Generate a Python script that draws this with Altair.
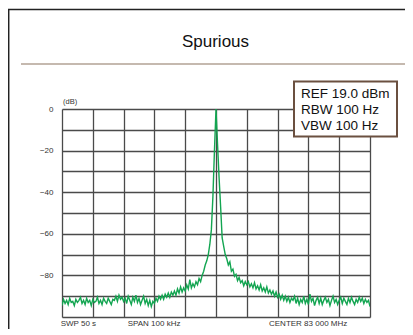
import altair as alt
import pandas as pd

# ---- data ----
level_db = [
    -94.5, -91.5, -93.5, -92, -94, -91, -93, -92.5, -94.5, -91.5,
    -93, -92, -90.5, -93.5, -92, -94, -91, -93, -92, -94.5,
    -91.5, -93, -92.5, -90.5, -93.5, -92, -94, -91, -92.5, -93.5,
    -91, -92.5, -94, -91.5, -92, -90, -92.5, -89.5, -91.5, -90.5,
    -92.5, -91, -93.5, -90, -92, -94, -90.5, -92.5, -89.5, -93,
    -91, -94, -92, -90, -93.5, -91.5, -94.5, -92, -95, -92.5,
    -93.5, -91, -92.5, -90, -91.5, -89.5, -91.5, -89, -90.5, -88.5,
    -90.5, -88, -89.5, -87.5, -89.5, -86.5, -88.5, -85.5, -88, -86,
    -87.5, -84.5, -86.5, -82, -86, -84, -85.5, -83, -84.5, -81.5,
    -83, -80, -78, -75, -73, -70, -65, -58, -42, -20,
    0,
    -17, -33, -47, -62, -66, -70, -72, -75, -73.5, -78,
    -77, -80.5, -79.5, -82.5, -81, -83.5, -82.5, -85, -83, -84.5,
    -83, -85.5, -84, -86, -83.5, -86.5, -85, -87, -84.5, -87.5,
    -86, -88, -85.5, -88.5, -87, -89, -87.5, -90, -88, -90.5,
    -89, -91.5, -89.5, -92, -90, -92.5, -90.5, -93, -91, -92,
    -90, -93.5, -91, -94, -91.5, -93, -90, -93.5, -91.5, -94,
    -89, -92.5, -91, -94.5, -92, -90.5, -93.5, -91, -94, -92,
    -90.5, -93, -91.5, -94.5, -92, -90, -93, -91.5, -94, -92,
    -90.5, -93.5, -91, -92.5, -94, -91, -93, -90.5, -92.5, -94,
    -91.5, -93, -90.5, -92.5, -91, -93.5, -91.5, -93, -92, -95,
]
span_start_khz = -50
step_khz = 0.5
freq_khz = [span_start_khz + step_khz * i for i in range(len(level_db))]

y_ticks = [0, -10, -20, -30, -40, -50, -60, -70, -80, -90, -100]
y_labels = [0, -20, -40, -60, -80]
x_ticks = [-50, -40, -30, -20, -10, 0, 10, 20, 30, 40, 50]

title_text = "Spurious"
info_lines = ["REF 19.0 dBm", "RBW 100 Hz", "VBW 100 Hz"]
bottom_texts = ["SWP 50 s", "SPAN 100 kHz", "CENTER 83 000 MHz"]

df = pd.DataFrame({"f": freq_khz, "db": level_db})

FONT = "Liberation Sans"
GREEN = "#13a551"
GRID = "#4a4a4a"

xs = alt.Scale(domain=[-50, 50], nice=False, zero=False)
ys = alt.Scale(domain=[-100, 0], nice=False, zero=False)

label_expr = "indexof([0,-20,-40,-60,-80], datum.value) >= 0 ? datum.label : ''"

trace = alt.Chart(df).mark_line(color=GREEN, strokeWidth=1.4, clip=True).encode(
    x=alt.X("f:Q", scale=xs, axis=alt.Axis(values=x_ticks, labels=False, ticks=False,
                                            domain=False, title=None, grid=True,
                                            gridColor=GRID, gridWidth=1.3, gridOpacity=1)),
    y=alt.Y("db:Q", scale=ys, axis=alt.Axis(values=y_ticks, labelExpr=label_expr, ticks=False,
                                             domain=False, title=None, grid=True,
                                             gridColor=GRID, gridWidth=1.3, gridOpacity=1,
                                             labelFont=FONT, labelFontSize=8, labelColor="#333333",
                                             labelPadding=9)),
)

one = pd.DataFrame({"a": [0]})

# outer slide frame
frame = alt.Chart(one).mark_rect(
    fill=None, stroke="#222222", strokeWidth=1.5
).encode(x=alt.value(-53.3), x2=alt.value(420), y=alt.value(-99.5), y2=alt.value(400))

# brown separator under the title
sep = alt.Chart(one).mark_rule(color="#8c7560", strokeWidth=1.2).encode(
    x=alt.value(-41), x2=alt.value(344), y=alt.value(-45)
)


def label(text, x, y, size, color="#111111", baseline="middle", align="left"):
    return alt.Chart(pd.DataFrame({"t": [text]})).mark_text(
        font=FONT, fontSize=size, color=color, align=align, baseline=baseline
    ).encode(text="t:N", x=alt.value(x), y=alt.value(y))


title = label(title_text, 153.5, -67, 17, align="center")
db_unit = label("(dB)", 1, -7, 7.5, color="#333333")

box = alt.Chart(one).mark_rect(
    fill="white", stroke="#6b5040", strokeWidth=2
).encode(x=alt.value(232), x2=alt.value(335), y=alt.value(-27.5), y2=alt.value(27.5))

info_y = [-15, 1, 17]
info = [label(t, 239, y, 13.5) for t, y in zip(info_lines, info_y)]

bottom_x = [-1.3, 65.7, 207]
bottom = [label(t, x, 217, 8, color="#333333", baseline="alphabetic")
          for t, x in zip(bottom_texts, bottom_x)]

chart = alt.layer(frame, sep, title, db_unit, trace, box, *info, *bottom).properties(
    width=308, height=208,
    autosize=alt.AutoSizeParams(type="none"),
    padding={"left": 54, "top": 101, "right": 35, "bottom": 12},
).configure_view(stroke="#111111", strokeWidth=1.5).configure(background="white")

chart.save("out.html", embed_options={"renderer": "svg", "actions": False})
